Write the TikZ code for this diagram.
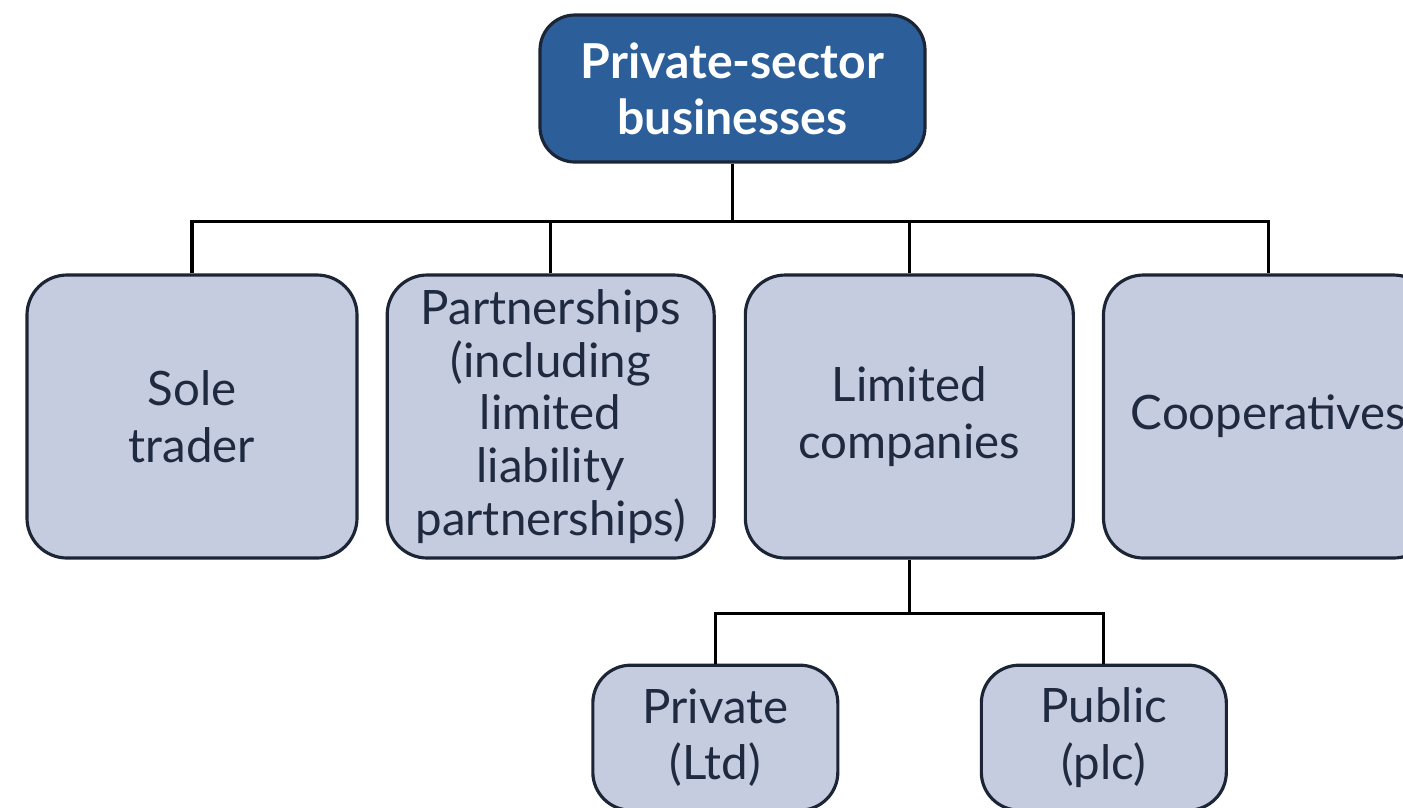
\documentclass[tikz,border=0pt]{standalone}
\usepackage{fontspec}
\setmainfont{Lato}
\usepackage{xcolor}
\usepackage{tikz}
\usetikzlibrary{positioning,calc}
\definecolor{topblue}{HTML}{2C5E99}
\definecolor{boxfill}{HTML}{C6CCE0}
\definecolor{boxline}{HTML}{1C2535}
\definecolor{boxtext}{HTML}{1F2940}

\begin{document}
\begin{tikzpicture}[line width=0.9pt,
	head node/.style={rectangle,rounded corners=0.35cm,fill=topblue,draw=boxline,
		text=white,font=\fontsize{13.7}{15.9}\selectfont\bfseries,align=center,
		minimum width=3.85cm,minimum height=1.47cm,inner sep=0pt},
	type node/.style={rectangle,rounded corners=0.4cm,fill=boxfill,draw=boxline,
		text=boxtext,font=\fontsize{13.5}{16.2}\selectfont,align=center,
		minimum width=3.3cm,minimum height=2.83cm,inner sep=0pt},
	sub node/.style={type node,rounded corners=0.38cm,
		minimum width=2.45cm,minimum height=1.45cm}]

	\useasboundingbox[fill=white] (0,0) rectangle (14.03,-8.07);

	\node[head node] (P) at (7.325,-0.885) {Private-sector\\businesses};

	\node[type node] (S) at (1.92,-4.165) {Sole\\trader};
	\node[type node,minimum width=3.27cm,font=\fontsize{13.5}{15}\selectfont] (Pa) [right = 0.27cm of S]
		{Partnerships\\(including\\limited\\liability\\partnerships)};
	\node[type node,minimum width=3.28cm] (L) [right = 0.28cm of Pa] {Limited\\companies};
	\node[type node] (C) [right = 0.27cm of L] {Cooperatives};

	\node[sub node] (Ltd) [below = 1.04cm of L, xshift=-1.94cm] {Private\\(Ltd)};
	\node[sub node] (Plc) [below = 1.04cm of L, xshift=1.945cm] {Public\\(plc)};

	% top level
	\coordinate (bus) at ($(P.south)+(0,-0.58)$);
	\draw (P.south) -- (bus);
	\draw (S.north) |- (bus) -| (C.north);
	\draw (Pa.north) -- (Pa.north |- bus);
	\draw (L.north) -- (L.north |- bus);

	% limited companies
	\coordinate (bus2) at ($(L.south)+(0,-0.54)$);
	\draw (L.south) -- (bus2);
	\draw (Ltd.north) |- (bus2) -| (Plc.north);

\end{tikzpicture}
\end{document}
